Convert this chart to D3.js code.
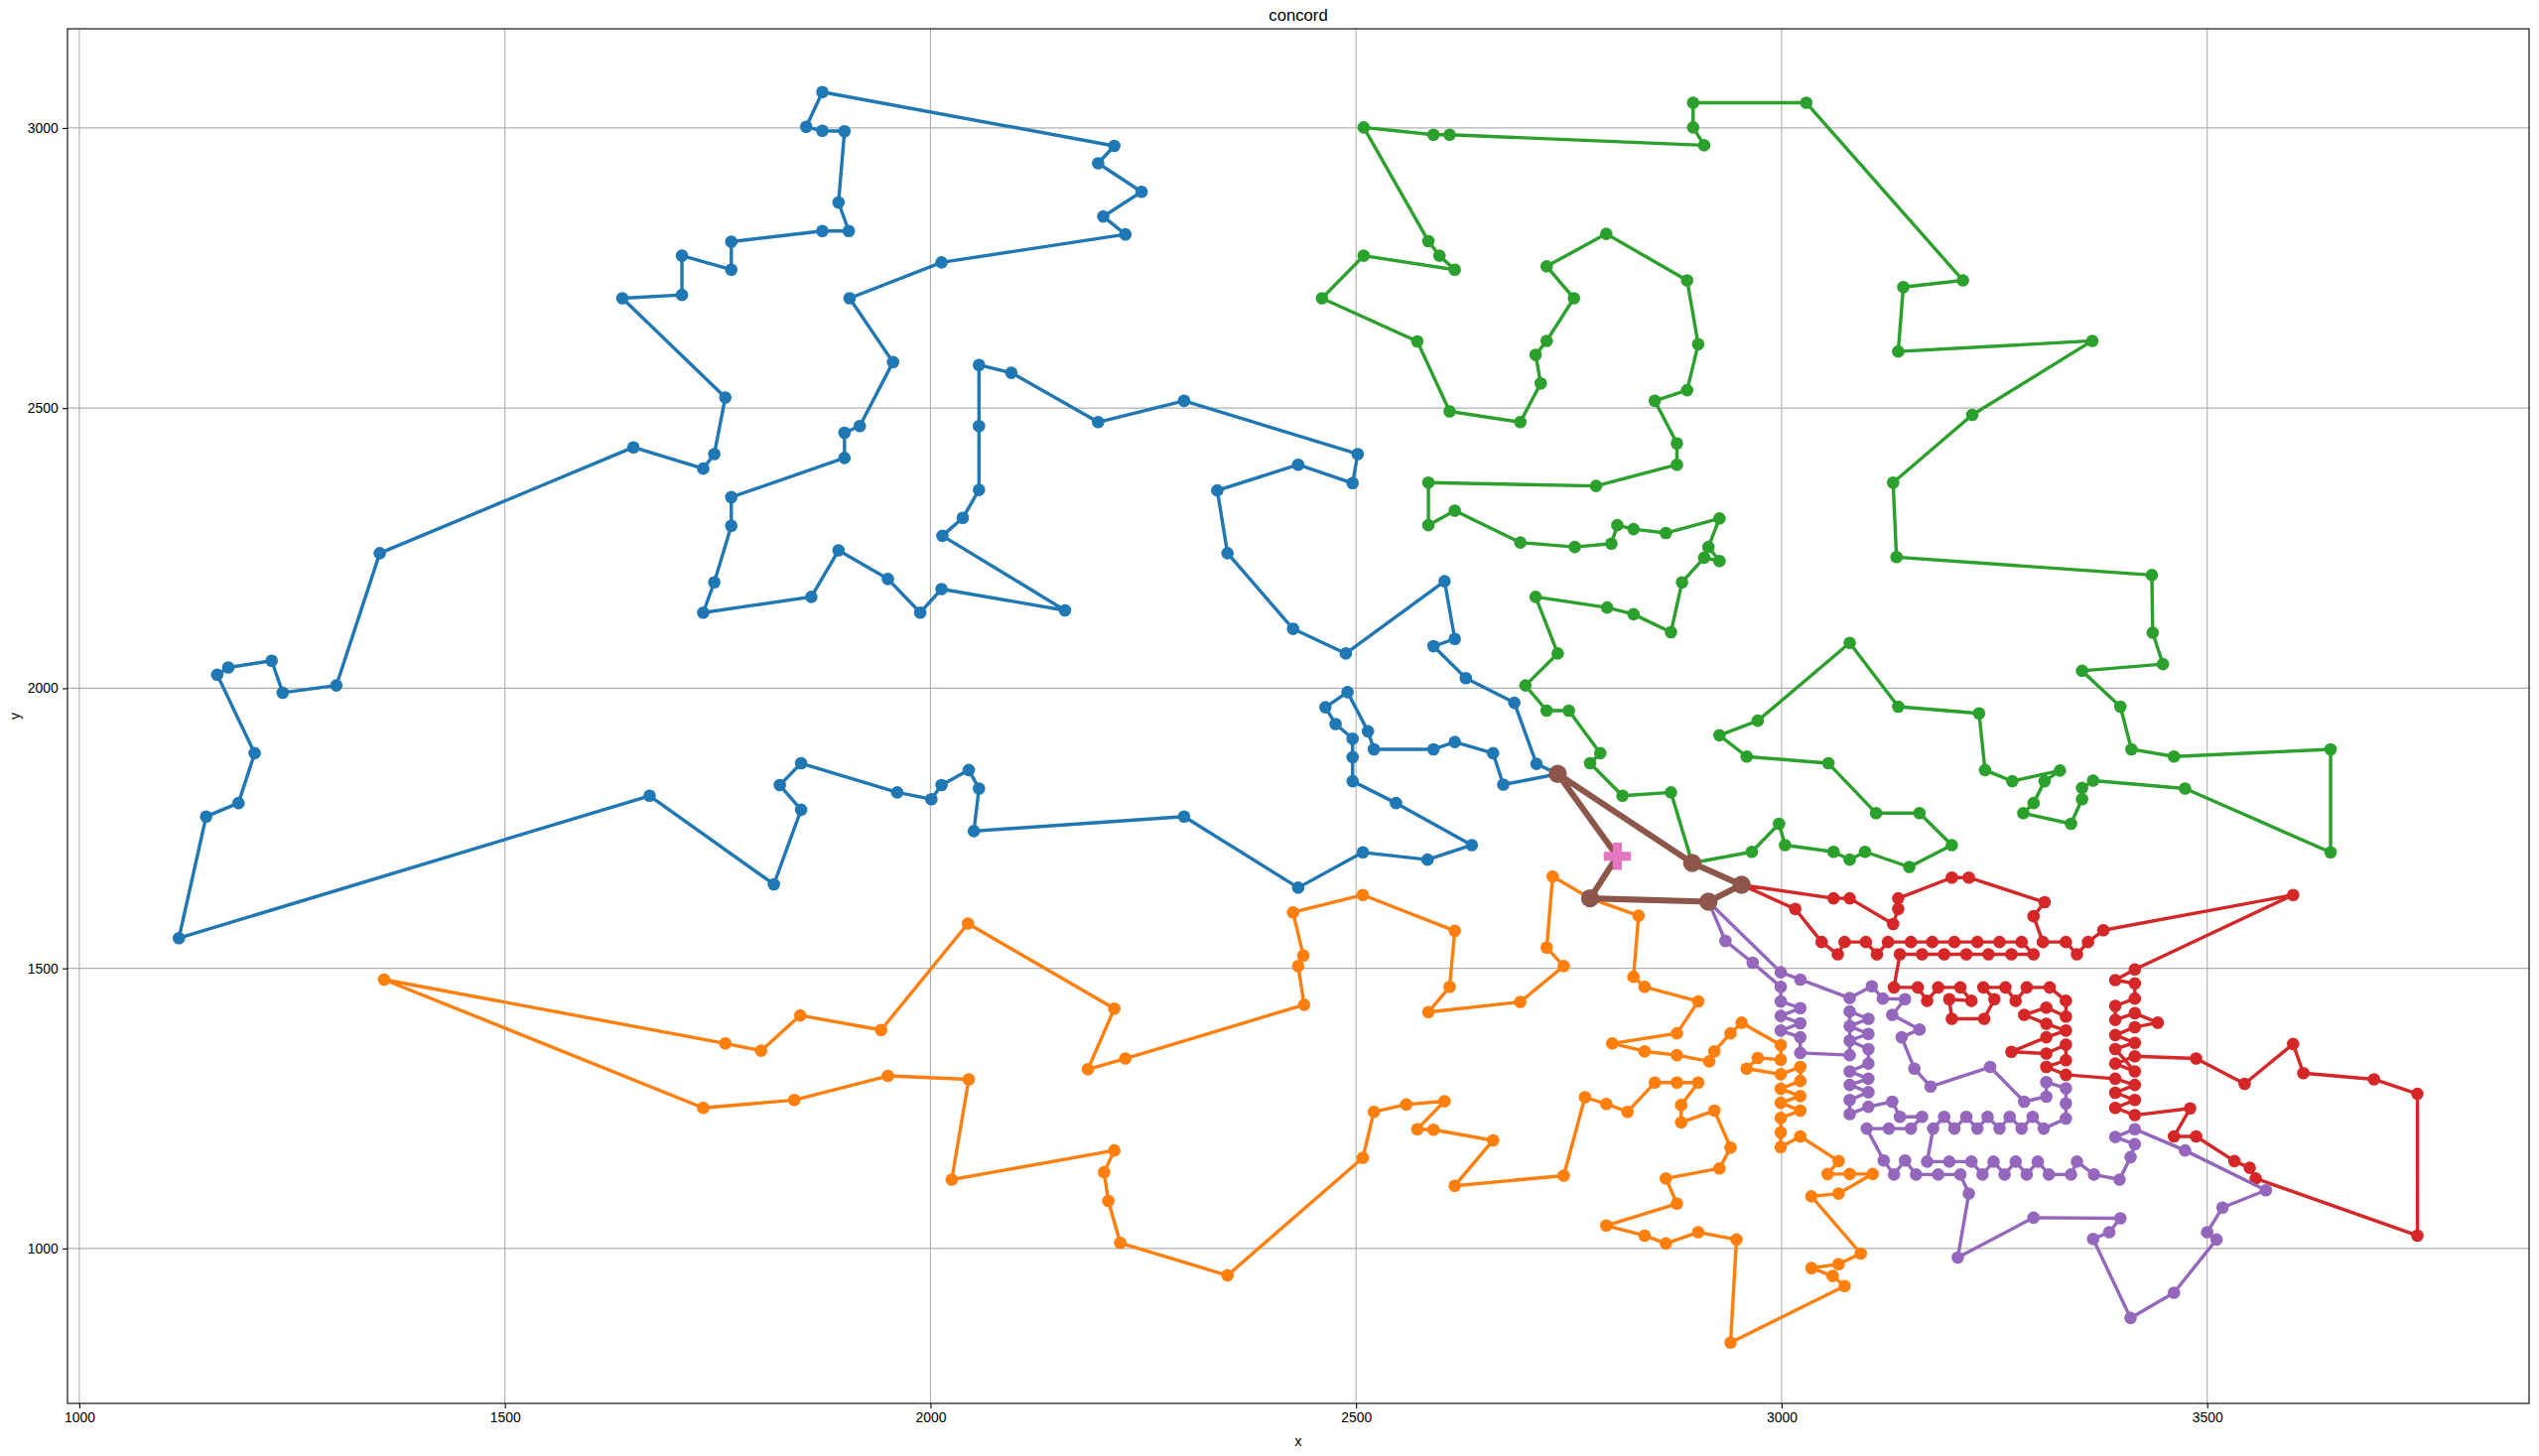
<!DOCTYPE html>
<html><head><meta charset="utf-8">
<script src="https://cdn.jsdelivr.net/npm/d3@7"></script>
<style>body{margin:0;background:#fff} svg{display:block}</style>
</head><body>
<script>
// ---------- DATA ----------
const chartTitle = "concord";
const xTicks = [1000, 1500, 2000, 2500, 3000, 3500];
const yTicks = [1000, 1500, 2000, 2500, 3000];
const depot = [[2807, 1700]];

const routeBlue = [[2737,1847],[2712,1865],[2686,1974],[2629,2018],[2591,2075],[2616,2088],[2604,2191],[2488,2062],[2426,2106],[2349,2241],[2337,2353],[2432,2399],[2496,2366],[2502,2418],[2298,2513],[2197,2475],[2095,2563],[2057,2577],[2057,2468],[2057,2354],[2038,2304],[2014,2272],[2158,2139],[2013,2177],[1988,2135],[1950,2195],[1892,2246],[1860,2163],[1733,2135],[1746,2189],[1766,2290],[1766,2341],[1899,2411],[1899,2456],[1917,2468],[1956,2582],[1905,2696],[2013,2760],[2229,2810],[2203,2842],[2248,2886],[2197,2937],[2216,2968],[1873,3064],[1854,3002],[1873,2995],[1899,2994],[1892,2867],[1904,2816],[1873,2816],[1766,2797],[1766,2747],[1708,2772],[1708,2702],[1638,2696],[1759,2519],[1746,2418],[1733,2392],[1651,2430],[1353,2241],[1302,2005],[1239,1992],[1226,2049],[1175,2037],[1162,2024],[1206,1884],[1187,1795],[1149,1771],[1117,1554],[1670,1808],[1816,1650],[1848,1783],[1823,1827],[1848,1866],[1961,1814],[2001,1802],[2013,1827],[2045,1854],[2057,1821],[2051,1745],[2298,1771],[2432,1644],[2508,1707],[2584,1694],[2636,1720],[2547,1795],[2496,1834],[2496,1877],[2496,1910],[2476,1936],[2464,1966],[2490,1993],[2514,1923],[2521,1891],[2591,1891],[2616,1904],[2661,1884],[2673,1828],[2737,1847]];

const routeOrange = [[2775,1625],[2832,1594],[2826,1485],[2839,1467],[2902,1441],[2877,1384],[2801,1366],[2839,1352],[2877,1345],[2915,1334],[2921,1352],[2940,1384],[2953,1403],[2999,1363],[2999,1337],[2972,1340],[2959,1321],[2999,1311],[3022,1324],[3022,1299],[2999,1285],[3022,1272],[2999,1260],[3022,1246],[2999,1233],[2999,1207],[2999,1181],[3022,1200],[3067,1156],[3054,1133],[3080,1133],[3107,1133],[3067,1098],[3035,1093],[3093,991],[3067,972],[3035,965],[3060,951],[3074,933],[2940,832],[2947,1016],[2902,1029],[2864,1009],[2839,1023],[2794,1041],[2877,1080],[2864,1125],[2927,1143],[2940,1180],[2921,1246],[2882,1225],[2882,1256],[2902,1296],[2877,1296],[2851,1296],[2819,1244],[2794,1258],[2769,1270],[2744,1130],[2616,1112],[2661,1193],[2591,1212],[2572,1213],[2604,1263],[2559,1257],[2521,1244],[2508,1162],[2349,952],[2223,1010],[2209,1085],[2204,1136],[2216,1175],[2025,1123],[2045,1302],[1950,1308],[1840,1265],[1733,1251],[1358,1480],[1759,1366],[1801,1353],[1847,1416],[1942,1390],[2044,1580],[2216,1428],[2185,1320],[2229,1339],[2439,1435],[2432,1504],[2438,1523],[2426,1600],[2508,1631],[2616,1567],[2610,1467],[2585,1422],[2693,1440],[2744,1504],[2724,1537],[2731,1664],[2775,1625]];

const routeGreen = [[2895,1688],[2965,1708],[2997,1758],[3004,1720],[3061,1708],[3080,1694],[3098,1708],[3150,1681],[3200,1720],[3162,1777],[3111,1777],[3055,1866],[2959,1878],[2927,1916],[2972,1942],[3080,2081],[3137,1967],[3232,1955],[3239,1854],[3271,1834],[3327,1853],[3309,1834],[3296,1795],[3284,1777],[3340,1758],[3353,1802],[3353,1822],[3366,1835],[3474,1821],[3645,1707],[3645,1891],[3461,1878],[3411,1891],[3398,1967],[3353,2031],[3448,2043],[3436,2099],[3435,2202],[3135,2234],[3131,2367],[3224,2488],[3365,2620],[3137,2601],[3143,2716],[3213,2728],[3029,3045],[2896,3045],[2896,3001],[2909,2969],[2610,2988],[2591,2988],[2509,3001],[2585,2798],[2598,2772],[2616,2747],[2509,2772],[2460,2696],[2572,2619],[2610,2494],[2693,2475],[2717,2544],[2711,2595],[2724,2620],[2756,2696],[2724,2753],[2794,2811],[2889,2728],[2902,2614],[2889,2532],[2851,2513],[2877,2437],[2877,2399],[2782,2361],[2585,2367],[2585,2291],[2616,2317],[2693,2260],[2757,2252],[2800,2258],[2807,2291],[2826,2284],[2864,2277],[2927,2303],[2914,2252],[2927,2227],[2909,2233],[2883,2189],[2870,2100],[2826,2132],[2795,2144],[2711,2163],[2737,2062],[2699,2005],[2724,1960],[2750,1960],[2787,1884],[2775,1866],[2813,1808],[2870,1814],[2895,1688]];

const routeRed = [[2953,1649],[3016,1606],[3047,1547],[3066,1525],[3074,1547],[3099,1547],[3112,1525],[3125,1547],[3152,1547],[3177,1547],[3203,1547],[3230,1547],[3256,1547],[3282,1547],[3296,1525],[3270,1525],[3243,1525],[3217,1525],[3191,1525],[3165,1525],[3139,1525],[3132,1466],[3160,1466],[3171,1442],[3184,1466],[3210,1466],[3223,1442],[3197,1445],[3200,1410],[3238,1410],[3250,1445],[3237,1466],[3263,1466],[3275,1442],[3288,1466],[3315,1466],[3334,1442],[3334,1414],[3311,1430],[3285,1417],[3311,1401],[3334,1389],[3311,1377],[3270,1351],[3311,1348],[3334,1364],[3334,1336],[3311,1324],[3334,1310],[3392,1303],[3415,1292],[3392,1278],[3415,1265],[3392,1251],[3415,1238],[3480,1250],[3461,1200],[3487,1200],[3532,1156],[3550,1144],[3557,1125],[3747,1023],[3747,1276],[3696,1302],[3613,1313],[3601,1365],[3544,1294],[3487,1339],[3415,1343],[3392,1330],[3415,1316],[3392,1356],[3415,1367],[3392,1381],[3415,1395],[3442,1403],[3415,1420],[3392,1408],[3392,1433],[3415,1446],[3415,1473],[3392,1479],[3415,1498],[3601,1631],[3378,1568],[3360,1547],[3347,1525],[3334,1547],[3307,1547],[3296,1593],[3309,1618],[3220,1662],[3200,1662],[3137,1625],[3137,1606],[3131,1579],[3080,1625],[3061,1625],[2953,1649]];

const routePurple = [[2914,1619],[2999,1493],[3022,1480],[3080,1447],[3106,1468],[3119,1446],[3145,1445],[3130,1417],[3162,1391],[3141,1377],[3156,1321],[3175,1289],[3245,1324],[3285,1262],[3311,1271],[3311,1297],[3334,1286],[3334,1259],[3334,1232],[3308,1214],[3295,1235],[3282,1214],[3268,1235],[3256,1214],[3242,1235],[3230,1214],[3217,1235],[3203,1214],[3191,1235],[3178,1214],[3171,1155],[3197,1155],[3223,1155],[3236,1132],[3249,1155],[3262,1132],[3275,1155],[3288,1132],[3301,1155],[3314,1132],[3340,1132],[3347,1155],[3367,1132],[3397,1123],[3410,1163],[3415,1186],[3392,1199],[3415,1213],[3474,1175],[3569,1104],[3518,1073],[3500,1029],[3511,1016],[3461,921],[3410,876],[3366,1017],[3385,1029],[3398,1054],[3296,1055],[3207,984],[3220,1098],[3210,1132],[3184,1132],[3158,1132],[3145,1157],[3132,1132],[3120,1157],[3100,1214],[3126,1214],[3152,1214],[3165,1235],[3139,1235],[3130,1262],[3102,1253],[3080,1240],[3080,1265],[3102,1279],[3080,1292],[3102,1303],[3080,1316],[3102,1330],[3102,1356],[3080,1371],[3102,1383],[3080,1397],[3102,1410],[3080,1423],[3080,1345],[3022,1349],[3022,1377],[2999,1389],[3022,1402],[2999,1415],[3022,1429],[2999,1441],[2999,1467],[2966,1510],[2934,1549],[2914,1619]];

const routeBrown = [[2807,1700],[2775,1625],[2914,1619],[2953,1649],[2895,1688],[2737,1847],[2807,1700]];

const palette = ["#1f77b4","#ff7f0e","#2ca02c","#d62728","#9467bd"];
const routes = [routeBlue, routeOrange, routeGreen, routeRed, routePurple];

// ---------- LAYOUT ----------
const W = 2558, H = 1467;
const L = 68, R = 2548, T = 29, B = 1414;
const x = d3.scaleLinear().domain([986.1, 3878.2]).range([L, R]);
const y = d3.scaleLinear().domain([723.5, 3177]).range([B, T]);
const font = "'Liberation Sans', Arial, Helvetica, sans-serif";

const svg = d3.select("body").append("svg").attr("width", W).attr("height", H)
  .style("font-family", font);
svg.append("rect").attr("width", W).attr("height", H).attr("fill", "#fff");

// grid
const grid = svg.append("g");
grid.selectAll(".gx").data(xTicks).join("line")
  .attr("x1", d => x(d)).attr("x2", d => x(d)).attr("y1", T).attr("y2", B)
  .attr("stroke", "#b0b0b0").attr("stroke-width", 1.1);
grid.selectAll(".gy").data(yTicks).join("line")
  .attr("y1", d => y(d)).attr("y2", d => y(d)).attr("x1", L).attr("x2", R)
  .attr("stroke", "#b0b0b0").attr("stroke-width", 1.1);

const clip = svg.append("clipPath").attr("id", "clip").append("rect")
  .attr("x", L).attr("y", T).attr("width", R - L).attr("height", B - T);
const plot = svg.append("g").attr("clip-path", "url(#clip)");

const line = d3.line().x(d => x(d[0])).y(d => y(d[1]));

routes.forEach((r, i) => {
  const g = plot.append("g");
  g.append("path").datum(r).attr("d", line).attr("fill", "none")
    .attr("stroke", palette[i]).attr("stroke-width", 3.4)
    .attr("stroke-linejoin", "round").attr("stroke-linecap", "square");
  g.selectAll("circle").data(r).join("circle")
    .attr("cx", d => x(d[0])).attr("cy", d => y(d[1])).attr("r", 6.3)
    .attr("fill", palette[i]);
});

// brown route
const gb = plot.append("g");
gb.append("path").datum(routeBrown).attr("d", line).attr("fill", "none")
  .attr("stroke", "#8c564b").attr("stroke-width", 6.2).attr("stroke-linejoin", "round");
gb.selectAll("circle").data(routeBrown.slice(1, -1)).join("circle")
  .attr("cx", d => x(d[0])).attr("cy", d => y(d[1])).attr("r", 9.2).attr("fill", "#8c564b");

// depot
plot.selectAll(".dep").data(depot).join("path")
  .attr("transform", d => `translate(${x(d[0])},${y(d[1])})`)
  .attr("d", d3.symbol(d3.symbolCross, 420)).attr("fill", "#e377c2");

// axes
const ax = svg.append("g").attr("transform", `translate(0,${B})`)
  .call(d3.axisBottom(x).tickValues(xTicks).tickSize(4.9).tickPadding(4.5).tickFormat(d3.format("d")));
const ay = svg.append("g").attr("transform", `translate(${L},0)`)
  .call(d3.axisLeft(y).tickValues(yTicks).tickSize(4.9).tickPadding(4.5).tickFormat(d3.format("d")));
[ax, ay].forEach(a => {
  a.select(".domain").remove();
  a.selectAll("text").attr("font-size", 13.9).attr("fill", "#000").style("font-family", font);
  a.selectAll("line").attr("stroke", "#000").attr("stroke-width", 1.1);
});

// spines
svg.append("rect").attr("x", L).attr("y", T).attr("width", R - L).attr("height", B - T)
  .attr("fill", "none").attr("stroke", "#000").attr("stroke-width", 1.1);

// labels
svg.append("text").attr("x", (L + R) / 2).attr("y", 21).attr("text-anchor", "middle")
  .attr("font-size", 16.7).text(chartTitle);
svg.append("text").attr("x", (L + R) / 2).attr("y", 1457).attr("text-anchor", "middle")
  .attr("font-size", 13.9).text("x");
svg.append("text").attr("transform", `translate(20,${(T + B) / 2}) rotate(-90)`)
  .attr("text-anchor", "middle").attr("font-size", 13.9).text("y");
</script>
</body></html>
